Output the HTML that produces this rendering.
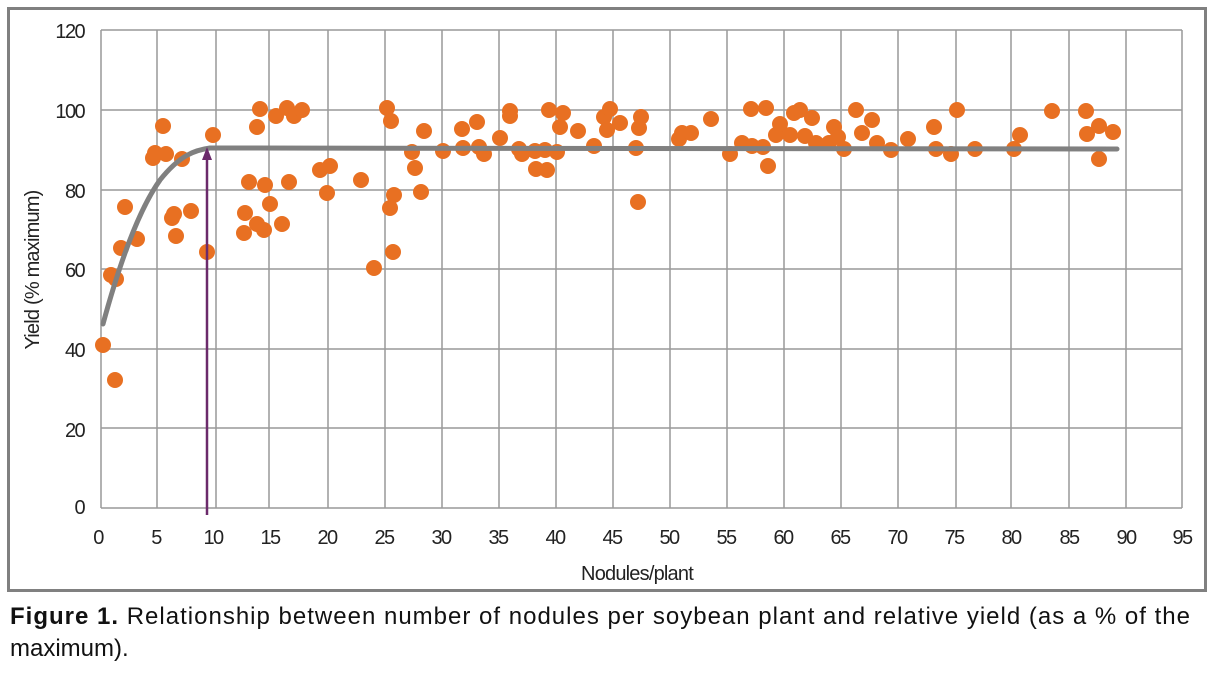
<!DOCTYPE html>
<html><head><meta charset="utf-8"><style>
html,body{margin:0;padding:0;background:#fff;}
svg{display:block;}
.t{font-family:"Liberation Sans Narrow","Liberation Sans",sans-serif;font-size:20px;letter-spacing:-1.6px;fill:#222;}
.c{font-family:"Liberation Sans",sans-serif;font-size:24px;fill:#111;}
</style></head><body>
<svg width="1220" height="676" viewBox="0 0 1220 676" xmlns="http://www.w3.org/2000/svg">
<rect x="8.5" y="8.5" width="1197" height="582" fill="none" stroke="#808080" stroke-width="3"/>
<g stroke="#999" stroke-width="1.5" fill="none">
<line x1="101" y1="30" x2="1182" y2="30"/><line x1="101" y1="110" x2="1182" y2="110"/>
<line x1="101" y1="190" x2="1182" y2="190"/><line x1="101" y1="269" x2="1182" y2="269"/>
<line x1="101" y1="349" x2="1182" y2="349"/><line x1="101" y1="428" x2="1182" y2="428"/>
<line x1="101" y1="508" x2="1182" y2="508"/>
<line x1="101" y1="30" x2="101" y2="508"/><line x1="157" y1="30" x2="157" y2="508"/>
<line x1="216" y1="30" x2="216" y2="508"/><line x1="269" y1="30" x2="269" y2="508"/>
<line x1="328" y1="30" x2="328" y2="508"/><line x1="385" y1="30" x2="385" y2="508"/>
<line x1="442" y1="30" x2="442" y2="508"/><line x1="499" y1="30" x2="499" y2="508"/>
<line x1="556" y1="30" x2="556" y2="508"/><line x1="613" y1="30" x2="613" y2="508"/>
<line x1="670" y1="30" x2="670" y2="508"/><line x1="727" y1="30" x2="727" y2="508"/>
<line x1="784" y1="30" x2="784" y2="508"/><line x1="841" y1="30" x2="841" y2="508"/>
<line x1="898" y1="30" x2="898" y2="508"/><line x1="956" y1="30" x2="956" y2="508"/>
<line x1="1011" y1="30" x2="1011" y2="508"/><line x1="1069" y1="30" x2="1069" y2="508"/>
<line x1="1126" y1="30" x2="1126" y2="508"/><line x1="1182" y1="30" x2="1182" y2="508"/>
</g>
<g class="t" text-anchor="end">
<text x="84" y="38">120</text><text x="84" y="118">100</text><text x="84" y="198">80</text>
<text x="84" y="277">60</text><text x="84" y="357">40</text><text x="84" y="437">20</text><text x="84" y="514">0</text>
</g>
<g class="t" text-anchor="middle">
<text x="98" y="544">0</text><text x="156" y="544">5</text><text x="213" y="544">10</text><text x="270" y="544">15</text>
<text x="327" y="544">20</text><text x="384" y="544">25</text><text x="441" y="544">30</text><text x="498" y="544">35</text>
<text x="555" y="544">40</text><text x="612" y="544">45</text><text x="669" y="544">50</text><text x="726" y="544">55</text>
<text x="783" y="544">60</text><text x="840" y="544">65</text><text x="897" y="544">70</text><text x="954" y="544">75</text>
<text x="1011" y="544">80</text><text x="1069" y="544">85</text><text x="1126" y="544">90</text><text x="1182" y="544">95</text>
<text x="637" y="580" style="letter-spacing:-0.8px">Nodules/plant</text>
<text transform="translate(39,270) rotate(-90)" style="letter-spacing:-0.8px">Yield (% maximum)</text>
</g>
<g fill="#e87022">
<circle cx="103" cy="345" r="8"/><circle cx="111" cy="275" r="8"/><circle cx="116" cy="279" r="8"/><circle cx="115" cy="380" r="8"/><circle cx="121" cy="248" r="8"/><circle cx="125" cy="207" r="8"/><circle cx="137" cy="239" r="8"/><circle cx="153" cy="158" r="8"/><circle cx="155" cy="153" r="8"/><circle cx="163" cy="126" r="8"/><circle cx="166" cy="154" r="8"/><circle cx="172" cy="218" r="8"/><circle cx="174" cy="214" r="8"/><circle cx="176" cy="236" r="8"/><circle cx="182" cy="159" r="8"/><circle cx="191" cy="211" r="8"/><circle cx="207" cy="252" r="8"/><circle cx="213" cy="135" r="8"/><circle cx="244" cy="233" r="8"/><circle cx="245" cy="213" r="8"/><circle cx="249" cy="182" r="8"/><circle cx="257" cy="127" r="8"/><circle cx="260" cy="109" r="8"/><circle cx="257" cy="224" r="8"/><circle cx="264" cy="230" r="8"/><circle cx="265" cy="185" r="8"/><circle cx="270" cy="204" r="8"/><circle cx="276" cy="116" r="8"/><circle cx="282" cy="224" r="8"/><circle cx="287" cy="108" r="8"/><circle cx="289" cy="182" r="8"/><circle cx="294" cy="116" r="8"/><circle cx="302" cy="110" r="8"/><circle cx="320" cy="170" r="8"/><circle cx="330" cy="166" r="8"/><circle cx="327" cy="193" r="8"/><circle cx="361" cy="180" r="8"/><circle cx="374" cy="268" r="8"/><circle cx="387" cy="108" r="8"/><circle cx="391" cy="121" r="8"/><circle cx="390" cy="208" r="8"/><circle cx="393" cy="252" r="8"/><circle cx="394" cy="195" r="8"/><circle cx="412" cy="152" r="8"/><circle cx="415" cy="168" r="8"/><circle cx="421" cy="192" r="8"/><circle cx="424" cy="131" r="8"/><circle cx="443" cy="151" r="8"/><circle cx="462" cy="129" r="8"/><circle cx="463" cy="148" r="8"/><circle cx="477" cy="122" r="8"/><circle cx="479" cy="147" r="8"/><circle cx="484" cy="154" r="8"/><circle cx="500" cy="138" r="8"/><circle cx="510" cy="116" r="8"/><circle cx="510" cy="111" r="8"/><circle cx="519" cy="149" r="8"/><circle cx="522" cy="154" r="8"/><circle cx="535" cy="151" r="8"/><circle cx="536" cy="169" r="8"/><circle cx="545" cy="150" r="8"/><circle cx="549" cy="110" r="8"/><circle cx="547" cy="170" r="8"/><circle cx="557" cy="152" r="8"/><circle cx="560" cy="127" r="8"/><circle cx="563" cy="113" r="8"/><circle cx="578" cy="131" r="8"/><circle cx="594" cy="146" r="8"/><circle cx="604" cy="117" r="8"/><circle cx="607" cy="130" r="8"/><circle cx="610" cy="109" r="8"/><circle cx="620" cy="123" r="8"/><circle cx="636" cy="148" r="8"/><circle cx="638" cy="202" r="8"/><circle cx="639" cy="128" r="8"/><circle cx="641" cy="117" r="8"/><circle cx="679" cy="139" r="8"/><circle cx="682" cy="133" r="8"/><circle cx="691" cy="133" r="8"/><circle cx="711" cy="119" r="8"/><circle cx="730" cy="154" r="8"/><circle cx="742" cy="143" r="8"/><circle cx="751" cy="109" r="8"/><circle cx="752" cy="146" r="8"/><circle cx="763" cy="147" r="8"/><circle cx="766" cy="108" r="8"/><circle cx="768" cy="166" r="8"/><circle cx="776" cy="135" r="8"/><circle cx="780" cy="124" r="8"/><circle cx="790" cy="135" r="8"/><circle cx="794" cy="113" r="8"/><circle cx="800" cy="110" r="8"/><circle cx="805" cy="136" r="8"/><circle cx="812" cy="118" r="8"/><circle cx="816" cy="143" r="8"/><circle cx="829" cy="143" r="8"/><circle cx="834" cy="127" r="8"/><circle cx="838" cy="137" r="8"/><circle cx="844" cy="149" r="8"/><circle cx="856" cy="110" r="8"/><circle cx="862" cy="133" r="8"/><circle cx="872" cy="120" r="8"/><circle cx="877" cy="143" r="8"/><circle cx="891" cy="150" r="8"/><circle cx="908" cy="139" r="8"/><circle cx="934" cy="127" r="8"/><circle cx="936" cy="149" r="8"/><circle cx="951" cy="154" r="8"/><circle cx="957" cy="110" r="8"/><circle cx="975" cy="149" r="8"/><circle cx="1014" cy="149" r="8"/><circle cx="1020" cy="135" r="8"/><circle cx="1052" cy="111" r="8"/><circle cx="1086" cy="111" r="8"/><circle cx="1087" cy="134" r="8"/><circle cx="1099" cy="126" r="8"/><circle cx="1099" cy="159" r="8"/><circle cx="1113" cy="132" r="8"/>
</g>
<path d="M103,324 C115,280 135,215 160,180 C180,155 195,150 210,148 L1117,149" fill="none" stroke="#808080" stroke-width="5" stroke-linecap="round"/>
<line x1="207" y1="515" x2="207" y2="158" stroke="#6b2a6b" stroke-width="2.5"/>
<polygon points="207,147 202,160 212,160" fill="#6b2a6b"/>
<text class="c" x="10" y="624" textLength="1180" lengthAdjust="spacing"><tspan font-weight="bold">Figure 1.</tspan> Relationship between number of nodules per soybean plant and relative yield (as a % of the</text>
<text class="c" x="10" y="656">maximum).</text>
</svg>
</body></html>
